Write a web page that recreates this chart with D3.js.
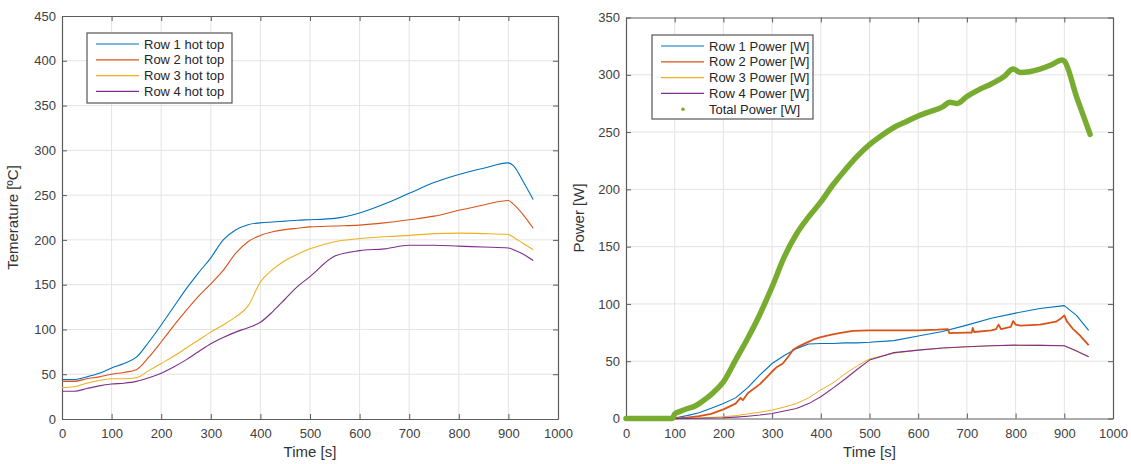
<!DOCTYPE html>
<html>
<head>
<meta charset="utf-8">
<script src="https://cdn.jsdelivr.net/npm/d3@7"></script>
<style>
  html, body { margin: 0; padding: 0; background: #fff; }
  svg { display: block; font-family: "Liberation Sans", Arial, sans-serif; }
</style>
</head>
<body>
<svg id="fig" width="1131" height="464"></svg>
<script>
// ---- Temperature panel data ----
const tempTime = [0, 25, 50, 75, 100, 125, 150, 175, 200, 225, 250, 275, 300, 325, 350, 375, 400, 425, 450, 475, 500, 550, 600, 650, 700, 750, 800, 850, 900, 910, 930, 950];
const row1Temp = [44, 44, 47, 51, 57, 62, 69, 86, 105, 125, 145, 163, 180, 200, 211, 217, 219, 220, 221, 222, 222.5, 224, 230, 240, 252, 264, 273, 280, 286, 283, 265, 245];
const row2Temp = [42, 42, 45, 47, 50, 52, 55, 69, 86, 104, 121, 137, 151, 166, 185, 198, 205, 209, 211.5, 213, 214.5, 215.5, 216.5, 219, 222.5, 226.5, 233, 239, 244, 240, 228, 213];
const row3Temp = [35, 36, 40, 43, 45, 45, 46, 54, 62, 70, 79, 88, 97, 105, 114, 126, 153, 167, 177, 184, 190, 198, 201.5, 203.5, 205, 207, 207.5, 207, 206, 203, 196, 189];
const row4Temp = [31, 31, 34, 37, 39, 40, 42, 46, 51, 58, 66, 75, 84, 91, 97, 102, 108, 120, 134, 148, 159, 182, 188, 190, 194, 194, 193, 192, 191, 189, 184, 177];
const tempLegend = ["Row 1 hot top", "Row 2 hot top", "Row 3 hot top", "Row 4 hot top"];

// ---- Power panel data ----
const rowPowerTime = [0, 90, 100, 125, 150, 175, 200, 225, 250, 275, 300, 325, 350, 375, 400, 425, 450, 475, 500, 550, 600, 650, 700, 750, 800, 850, 900, 925, 950];
const row1Power = [0, 0, 0.5, 2.5, 5, 9, 13, 18, 27, 38, 48, 55, 61, 65, 65.5, 65.5, 66, 66, 66.5, 68, 72, 76, 81.5, 87.5, 92, 96, 98.5, 90, 77];
const row3Power = [0, 0, 0, 0.2, 0.5, 1, 1.5, 2.5, 4, 5.5, 7.3, 10, 13, 18, 25, 31, 39, 46, 52, 57, 59.7, 61.5, 62.6, 63.5, 64, 64, 63.5, 59, 54];
const row4Power = [0, 0, 0, 0.1, 0.2, 0.4, 0.6, 1.2, 2, 3, 4.4, 6.5, 8.7, 13, 19, 26.5, 34.5, 43, 51, 57.5, 59.7, 61.5, 62.6, 63.5, 64, 63.8, 63.5, 59, 54];
const row2PowerTime = [0, 90, 100, 125, 150, 175, 200, 225, 235, 240, 250, 275, 300, 310, 322, 335, 343, 355, 370, 385, 400, 420, 438, 466, 500, 550, 600, 640, 661, 664, 700, 710, 712, 715, 750, 760, 765, 770, 790, 795, 800, 810, 850, 883, 895, 900, 905, 917, 931, 950];
const row2Power = [0, 0, 0, 0.8, 2, 4, 8, 13, 18, 16, 22, 30, 41, 45, 48, 55, 60, 63, 66, 69, 71, 73, 74.5, 76.5, 77, 77, 77, 77.5, 78, 74.5, 75, 75, 79, 75.5, 77, 78, 82, 78, 80, 85, 82, 81, 82, 84.5, 88, 90, 85, 78.5, 73, 64];
const totalTime = [0, 95, 100, 110, 125, 140, 150, 165, 180, 200, 225, 250, 275, 300, 325, 350, 375, 400, 425, 450, 475, 500, 525, 550, 575, 600, 625, 650, 665, 680, 700, 725, 750, 775, 795, 810, 850, 875, 895, 900, 925, 953];
const totalPower = [0, 0, 4, 6, 8.5, 10.5, 13, 17.5, 23, 32, 51, 70, 91, 115, 141, 161, 176, 189, 204, 217, 229, 239, 247, 254, 259, 264, 268, 272, 276, 275, 281, 287, 292, 298, 305, 302, 305, 309, 313, 312, 281, 248];
const powerLegend = ["Row 1 Power [W]", "Row 2 Power [W]", "Row 3 Power [W]", "Row 4 Power [W]", "Total Power [W]"];

const xTicks = [0, 100, 200, 300, 400, 500, 600, 700, 800, 900, 1000];
const tempTicks = [0, 50, 100, 150, 200, 250, 300, 350, 400, 450];
const powerTicks = [0, 50, 100, 150, 200, 250, 300, 350];

const colors = ["#0072BD", "#D95319", "#EDB120", "#7E2F8E", "#77AC30"];

const svg = d3.select("#fig");

// Draws a boxed axes with inward ticks on all four sides and a light grid.
function drawAxes(g, x, y, yTicks, yLabel, yLabelX) {
  const [x0, x1] = x.range();
  const [y0, y1] = y.range();
  const tickLen = 5;
  const axisColor = "#5c5c5c";

  g.append("g").selectAll("line").data(xTicks.slice(1, -1)).join("line")
    .attr("x1", d => x(d)).attr("x2", d => x(d)).attr("y1", y0).attr("y2", y1)
    .attr("stroke", "#e3e3e3").attr("stroke-width", 1);
  g.append("g").selectAll("line").data(yTicks.slice(1, -1)).join("line")
    .attr("y1", d => y(d)).attr("y2", d => y(d)).attr("x1", x0).attr("x2", x1)
    .attr("stroke", "#e3e3e3").attr("stroke-width", 1);

  const fmt = d3.format("d");
  const bottom = d3.axisBottom(x).tickValues(xTicks).tickFormat(fmt).tickSizeInner(-tickLen).tickSizeOuter(0).tickPadding(10);
  const left = d3.axisLeft(y).tickValues(yTicks).tickFormat(fmt).tickSizeInner(-tickLen).tickSizeOuter(0).tickPadding(10);
  const top = d3.axisTop(x).tickValues(xTicks).tickSizeInner(-tickLen).tickSizeOuter(0).tickFormat("");
  const right = d3.axisRight(y).tickValues(yTicks).tickSizeInner(-tickLen).tickSizeOuter(0).tickFormat("");

  g.append("g").attr("transform", `translate(0,${y0})`).call(bottom);
  const gl = g.append("g").attr("transform", `translate(${x0},0)`).call(left);
  g.append("g").attr("transform", `translate(0,${y1})`).call(top);
  g.append("g").attr("transform", `translate(${x1},0)`).call(right);

  g.selectAll(".domain").attr("stroke", axisColor).attr("stroke-width", 1.2);
  g.selectAll(".tick line").attr("stroke", axisColor).attr("stroke-width", 1);
  g.selectAll(".tick text").attr("fill", "#404040").attr("font-size", 13)
    .attr("font-family", "'Liberation Sans', Arial, sans-serif");
  gl.selectAll(".tick text").attr("dx", 4);

  g.append("text").attr("x", (x0 + x1) / 2).attr("y", y0 + 38)
    .attr("text-anchor", "middle").attr("font-size", 15).attr("fill", "#333")
    .text("Time [s]");
  g.append("text")
    .attr("transform", `translate(${yLabelX},${(y0 + y1) / 2}) rotate(-90)`)
    .attr("text-anchor", "middle").attr("font-size", 15).attr("fill", "#333")
    .text(yLabel);
}

function drawLegend(g, x, y, w, h, entries, marker) {
  g.append("rect").attr("x", x).attr("y", y).attr("width", w).attr("height", h)
    .attr("fill", "#fff").attr("stroke", "#555").attr("stroke-width", 1.2);
  entries.forEach((label, i) => {
    const cy = y + 11 + i * 15.8;
    if (marker[i] === "dot") {
      g.append("circle").attr("cx", x + 31).attr("cy", cy).attr("r", 1.8).attr("fill", colors[4]);
    } else {
      g.append("line").attr("x1", x + 9).attr("x2", x + 52).attr("y1", cy).attr("y2", cy)
        .attr("stroke", colors[i]).attr("stroke-width", 1.2);
    }
    g.append("text").attr("x", x + 57).attr("y", cy + 4.5).attr("font-size", 13)
      .attr("fill", "#262626").text(label);
  });
}

// ---- Left panel: temperatures ----
const xT = d3.scaleLinear().domain([0, 1000]).range([62, 558]);
const yT = d3.scaleLinear().domain([0, 450]).range([419, 16]);
const gT = svg.append("g");
drawAxes(gT, xT, yT, tempTicks, "Temerature [ºC]", 18);

const tempSeries = [row1Temp, row2Temp, row3Temp, row4Temp];
const lineT = d3.line().x(d => xT(d[0])).y(d => yT(d[1])).curve(d3.curveMonotoneX);
tempSeries.forEach((vals, i) => {
  gT.append("path").datum(tempTime.map((t, k) => [t, vals[k]]))
    .attr("fill", "none").attr("stroke", colors[i]).attr("stroke-width", 1.1)
    .attr("d", lineT);
});
drawLegend(gT, 87, 33, 145, 70, tempLegend, ["line", "line", "line", "line"]);

// ---- Right panel: power ----
const xP = d3.scaleLinear().domain([0, 1000]).range([626, 1113]);
const yP = d3.scaleLinear().domain([0, 350]).range([418.5, 17.5]);
const gP = svg.append("g");
drawAxes(gP, xP, yP, powerTicks, "Power [W]", 584);

const lineP = d3.line().x(d => xP(d[0])).y(d => yP(d[1]));
const powerSeries = [
  { t: rowPowerTime, v: row1Power, c: colors[0], w: 1.1 },
  { t: row2PowerTime, v: row2Power, c: colors[1], w: 1.8 },
  { t: rowPowerTime, v: row3Power, c: colors[2], w: 1 },
  { t: rowPowerTime, v: row4Power, c: colors[3], w: 1.1 }
];
powerSeries.forEach(s => {
  gP.append("path").datum(s.t.map((t, k) => [t, s.v[k]]))
    .attr("fill", "none").attr("stroke", s.c).attr("stroke-width", s.w)
    .attr("stroke-linejoin", "round").attr("d", lineP);
});
// total power: a dense band of dot markers
const lineTotal = d3.line().x(d => xP(d[0])).y(d => yP(d[1])).curve(d3.curveMonotoneX);
gP.append("path").datum(totalTime.map((t, k) => [t, totalPower[k]]))
  .attr("fill", "none").attr("stroke", colors[4]).attr("stroke-width", 5.5)
  .attr("stroke-linecap", "round").attr("stroke-linejoin", "round").attr("d", lineTotal);

drawLegend(gP, 652, 35, 161, 84, powerLegend, ["line", "line", "line", "line", "dot"]);
</script>
</body>
</html>
